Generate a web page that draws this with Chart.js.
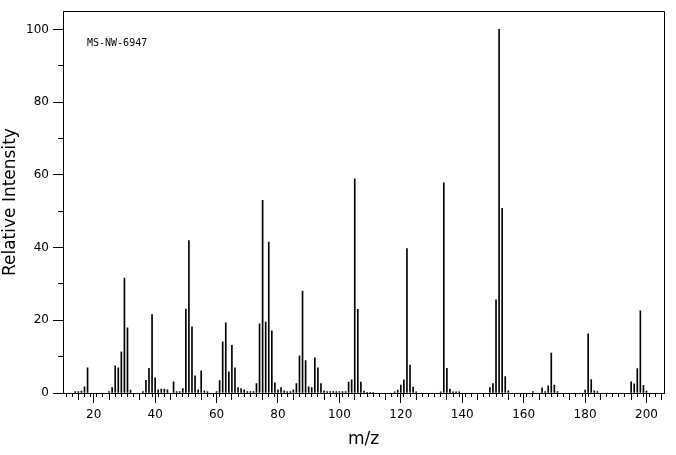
<!DOCTYPE html>
<html>
<head>
<meta charset="utf-8">
<title>MS-NW-6947</title>
<script src="https://cdn.jsdelivr.net/npm/chart.js@4.4.1/dist/chart.umd.min.js"></script>
<style>
  body { margin: 0; background: #fff; }
  #wrap { width: 676px; height: 455px; }
</style>
</head>
<body>
<div id="wrap"><canvas id="chart"></canvas></div>
<script>
/* Spectrum name shown in the plot. */
const sampleName = "MS-NW-6947"

/* Peaks: m/z and relative intensity (%). */
const mz = [
  14, 15, 16, 17, 18, 25, 26, 27, 28, 29, 30, 31, 32,
  36, 37, 38, 39, 40, 41, 42, 43, 44, 46, 47, 48, 49,
  50, 51, 52, 53, 54, 55, 56, 57, 60, 61, 62, 63, 64, 65, 66, 67, 68, 69,
  70, 71, 72, 73, 74, 75, 76, 77, 78, 79, 80, 81, 82, 83, 84, 85, 86, 87, 88, 89,
  90, 91, 92, 93, 94, 95, 96, 97, 98, 99, 100, 101, 102, 103, 104, 105, 106, 107, 108, 109,
  110, 111, 118, 119, 120, 121, 122, 123, 124, 125,
  133, 134, 135, 136, 137, 138, 139,
  149, 150, 151, 152, 153, 154, 155,
  163, 166, 167, 168, 169, 170, 171,
  180, 181, 182, 183, 184,
  195, 196, 197, 198, 199, 200
]
const intensity = [
  0.4, 0.4, 0.5, 1.7, 6.9, 0.4, 1.5, 7.5, 6.9, 11.3, 31.6, 17.9, 0.8,
  0.4, 3.5, 6.8, 21.6, 4.2, 0.9, 1.1, 1.1, 0.9, 3.1, 0.4, 0.4, 1.2,
  23.1, 41.9, 18.2, 4.7, 0.9, 6.1, 0.6, 0.4, 0.4, 3.4, 14.1, 19.3, 5.8, 13.1, 6.9, 1.5, 1.2, 0.9,
  0.4, 0.4, 0.4, 2.6, 19.0, 53.0, 19.5, 41.5, 17.1, 2.8, 0.9, 1.5, 0.6, 0.4, 0.4, 0.9, 2.6, 10.2, 28.0, 8.9,
  1.7, 1.5, 9.7, 6.9, 2.6, 0.6, 0.4, 0.4, 0.4, 0.4, 0.4, 0.4, 0.4, 3.0, 3.6, 58.9, 23.0, 3.0, 0.5, 0.2,
  0.2, 0.2, 0.3, 0.8, 2.2, 3.6, 39.7, 7.7, 1.6, 0.3,
  0.3, 57.8, 6.8, 1.1, 0.3, 0.3, 0.3,
  1.5, 2.6, 25.6, 100, 50.8, 4.5, 0.6,
  0.4, 1.4, 0.4, 2.0, 11.0, 2.2, 0.4,
  0.8, 16.3, 3.7, 0.6, 0.4,
  3.1, 2.5, 6.7, 22.6, 2.1, 0.5
]

/* Axis ranges and tick steps. */
const xMin = 10
const xMax = 205.7
const yMin = 0
const yMax = 105
const xLabelStep = 20
const xMidStep = 10
const xMinorStep = 2
const yLabelStep = 20
const yMinorStep = 10

Chart.defaults.font.family = "'DejaVu Sans', sans-serif"
Chart.defaults.color = "#000"

/* Top and right edges of the frame, plus the spectrum name. */
const framePlugin = {
  id: "frame",
  afterDraw(chart) {
    const { ctx, chartArea } = chart
    const left = Math.round(chartArea.left) + 0.5
    const top = Math.round(chartArea.top) + 0.5
    const right = Math.round(chartArea.right) + 0.5
    const bottom = Math.round(chartArea.bottom) + 0.5
    ctx.save()
    ctx.strokeStyle = "#000"
    ctx.lineWidth = 1
    ctx.beginPath()
    ctx.moveTo(left, top)
    ctx.lineTo(right, top)
    ctx.lineTo(right, bottom)
    ctx.stroke()
    ctx.font = "10px 'DejaVu Sans Mono', monospace"
    ctx.fillStyle = "#000"
    ctx.textBaseline = "middle"
    ctx.textAlign = "left"
    ctx.fillText(sampleName, chartArea.left + 24, chartArea.top + 32)
    ctx.restore()
  }
}

/* Tick-only axis laid over the main one, for shorter tick marks. */
const tickAxis = (axis, at, step, min, max, length) => ({
  type: "linear",
  axis: axis,
  position: at,
  min: min,
  max: max,
  offset: false,
  border: { display: false },
  grid: { drawOnChartArea: false, drawTicks: true, tickLength: length, color: "#000", tickColor: "#000" },
  ticks: { display: false, stepSize: step, autoSkip: false, includeBounds: false }
})

const ctx = document.getElementById("chart").getContext("2d")
const chart = new Chart(ctx, {
  type: "bar",
  data: {
    datasets: [{
      data: mz.map((m, i) => ({ x: m, y: intensity[i] })),
      backgroundColor: "#000",
      borderWidth: 0,
      barThickness: 1,
      xAxisID: "x",
      yAxisID: "y"
    }]
  },
  options: {
    responsive: true,
    maintainAspectRatio: false,
    animation: false,
    layout: { padding: { top: 9, right: 12, left: 0, bottom: 0 } },
    plugins: {
      legend: { display: false },
      tooltip: { enabled: false }
    },
    scales: {
      x: {
        type: "linear",
        position: "bottom",
        min: xMin,
        max: xMax,
        offset: false,
        border: { display: true, color: "#000", width: 1 },
        grid: { drawOnChartArea: false, offset: false, tickLength: 10, color: "#000", tickColor: "#000" },
        ticks: { stepSize: xLabelStep, includeBounds: false, autoSkip: false, maxRotation: 0, padding: 5, font: { size: 12 } },
        title: { display: true, text: "m/z", font: { size: 17 }, padding: { top: 0, bottom: 5 } },
        afterFit: axis => { axis.height = 62 }
      },
      y: {
        type: "linear",
        position: "left",
        min: yMin,
        max: yMax,
        border: { display: true, color: "#000", width: 1 },
        grid: { drawOnChartArea: false, tickLength: 10, color: "#000", tickColor: "#000" },
        ticks: { stepSize: yLabelStep, includeBounds: false, autoSkip: false, padding: 4, font: { size: 12 } },
        title: { display: true, text: "Relative Intensity", font: { size: 17 }, padding: { top: 0, bottom: 0 } },
        afterFit: axis => { axis.width = 63 }
      },
      xMid: tickAxis("x", { y: 0 }, xMidStep, xMin, xMax, 7),
      xMinor: tickAxis("x", { y: 0 }, xMinorStep, xMin, xMax, 4),
      yMinor: tickAxis("y", { x: xMin }, yMinorStep, yMin, yMax, 5)
    }
  },
  plugins: [framePlugin]
})
</script>
</body>
</html>
